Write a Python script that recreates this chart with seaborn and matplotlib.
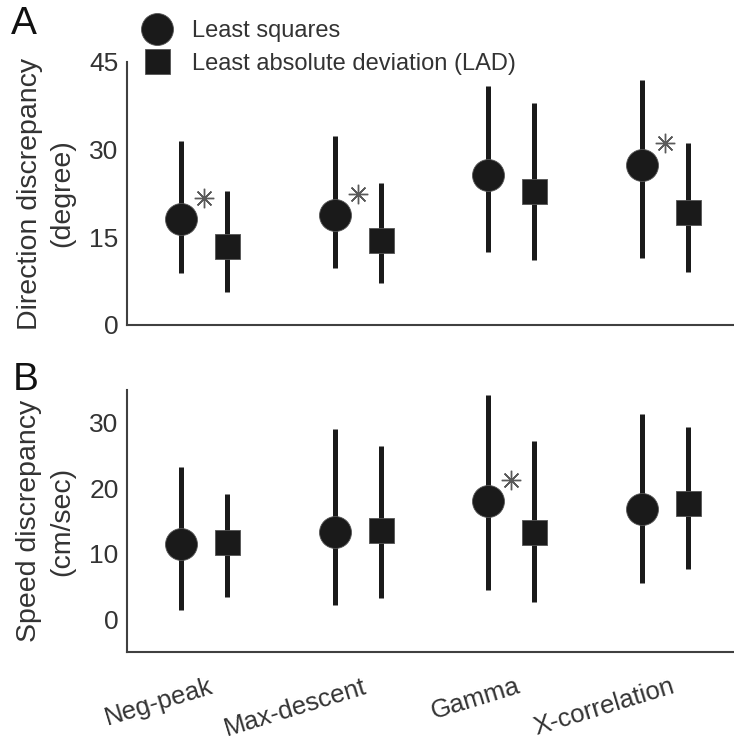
import numpy as np
import pandas as pd
import matplotlib
matplotlib.use("Agg")
import matplotlib.pyplot as plt
import matplotlib.transforms as mtrans
import seaborn as sns
from matplotlib.lines import Line2D

sns.set_style("white")
plt.rcParams['font.family'] = ['Liberation Sans', 'DejaVu Sans']

# ---------------- data ----------------
categories = ["Neg-peak", "Max-descent", "Gamma", "X-correlation"]
series_names = ["Least squares", "Least absolute deviation (LAD)"]

# Panel A: direction discrepancy (degree)
dir_ls_med = [18.2, 18.9, 25.7, 27.4]
dir_ls_lo = [8.9, 9.8, 12.5, 11.4]
dir_ls_hi = [31.4, 32.4, 40.9, 42.0]
dir_lad_med = [13.6, 14.5, 23.0, 19.3]
dir_lad_lo = [5.6, 7.2, 11.2, 9.0]
dir_lad_hi = [23.0, 24.3, 37.9, 31.1]
dir_star = [21.8, 22.4, np.nan, 31.1]

# Panel B: speed discrepancy (cm/sec)
spd_ls_med = [11.5, 13.3, 18.0, 16.8]
spd_ls_lo = [1.4, 2.1, 4.5, 5.5]
spd_ls_hi = [23.3, 29.0, 34.2, 31.4]
spd_lad_med = [11.8, 13.7, 13.3, 17.7]
spd_lad_lo = [3.4, 3.3, 2.6, 7.7]
spd_lad_hi = [19.1, 26.5, 27.2, 29.4]
spd_star = [np.nan, np.nan, 21.2, np.nan]

yticks_A = [0, 15, 30, 45]
yticks_B = [0, 10, 20, 30]

# ---------------- style ----------------
DARK = "#1a1a1a"
AXC = "#404040"
TXT = "#333333"
OFF = 0.15
CIRC = 23.0   # pt
SQ = 18.0     # pt
ELW = 3.6

fig = plt.figure(figsize=(7.34, 7.42), dpi=100)
W, H = 734.0, 742.0
left = 127 / W
width = (742 - 127) / W
axA = fig.add_axes([left, 1 - 325 / H, width, (325 - 62) / H])
axB = fig.add_axes([left, 1 - 652 / H, width, (652 - 390) / H])


def draw(ax, ls_med, ls_lo, ls_hi, lad_med, lad_lo, lad_hi, star):
    idx = np.arange(1, len(categories) + 1)
    df_ls = pd.DataFrame({"x": idx - OFF, "y": ls_med, "lo": ls_lo, "hi": ls_hi})
    df_lad = pd.DataFrame({"x": idx + OFF, "y": lad_med, "lo": lad_lo, "hi": lad_hi})
    for d in (df_ls, df_lad):
        ax.vlines(d["x"], d["lo"], d["hi"], colors=DARK, linewidth=ELW, zorder=2)
    sns.scatterplot(data=df_ls, x="x", y="y", marker="o", s=CIRC ** 2, color=DARK,
                    edgecolor="#555555", linewidth=0.6, ax=ax, zorder=3, legend=False)
    sns.scatterplot(data=df_lad, x="x", y="y", marker="s", s=SQ ** 2, color=DARK,
                    edgecolor="#555555", linewidth=0.6, ax=ax, zorder=3, legend=False)
    df_st = pd.DataFrame({"x": idx, "y": star}).dropna()
    ax.plot(df_st["x"], df_st["y"], linestyle="none", marker=(8, 2, 0), markersize=14,
            markeredgewidth=1.0, color="#5a5a5a", zorder=4)
    ax.set_xlim(0.5, 4.5)
    ax.set_xticks(idx)
    ax.set_xlabel("")
    for s in ("top", "right"):
        ax.spines[s].set_visible(False)
    for s in ("left", "bottom"):
        ax.spines[s].set_color(AXC)
        ax.spines[s].set_linewidth(1.5)
    ax.tick_params(direction="in", length=5, width=1.5, color=AXC, labelsize=19,
                   labelcolor=TXT, pad=6)
    return idx


draw(axA, dir_ls_med, dir_ls_lo, dir_ls_hi, dir_lad_med, dir_lad_lo, dir_lad_hi, dir_star)
axA.set_ylim(0, 45)
axA.set_yticks(yticks_A)
axA.set_xticklabels([])
axA.set_ylabel("Direction discrepancy\n(degree)", fontsize=20.5, color=TXT,
               linespacing=1.35, labelpad=10)

draw(axB, spd_ls_med, spd_ls_lo, spd_ls_hi, spd_lad_med, spd_lad_lo, spd_lad_hi, spd_star)
axB.set_ylim(-5, 35)
axB.set_yticks(yticks_B)
axB.set_xticklabels(categories, rotation=17, ha="right", va="top",
                    rotation_mode="anchor", fontsize=18.5)
axB.set_ylabel("Speed discrepancy\n(cm/sec)", fontsize=20.5, color=TXT,
               linespacing=1.35, labelpad=10)

shift = mtrans.ScaledTranslation(0.05, -0.14, fig.dpi_scale_trans)
for t in axB.get_xticklabels():
    t.set_transform(t.get_transform() + shift)

fig.align_ylabels([axA, axB])

# legend
handles = [
    Line2D([], [], linestyle="none", marker="o", markersize=CIRC, color=DARK,
           markeredgecolor="#555555", markeredgewidth=0.6),
    Line2D([], [], linestyle="none", marker="s", markersize=SQ, color=DARK,
           markeredgecolor="#555555", markeredgewidth=0.6),
]
axA.legend(handles, series_names, loc="upper left", bbox_to_anchor=(145 / W, 1 - 20 / H),
           bbox_transform=fig.transFigure, frameon=False, fontsize=17, borderpad=0,
           borderaxespad=0, handlelength=1.0, handletextpad=1.0, labelspacing=0.45,
           labelcolor=TXT)

fig.text(11 / W, 1 - 6 / H, "A", fontsize=28, color="#111111", va="top", ha="left")
fig.text(13 / W, 1 - 362 / H, "B", fontsize=28, color="#111111", va="top", ha="left")

fig.savefig("out.png", dpi=100)
